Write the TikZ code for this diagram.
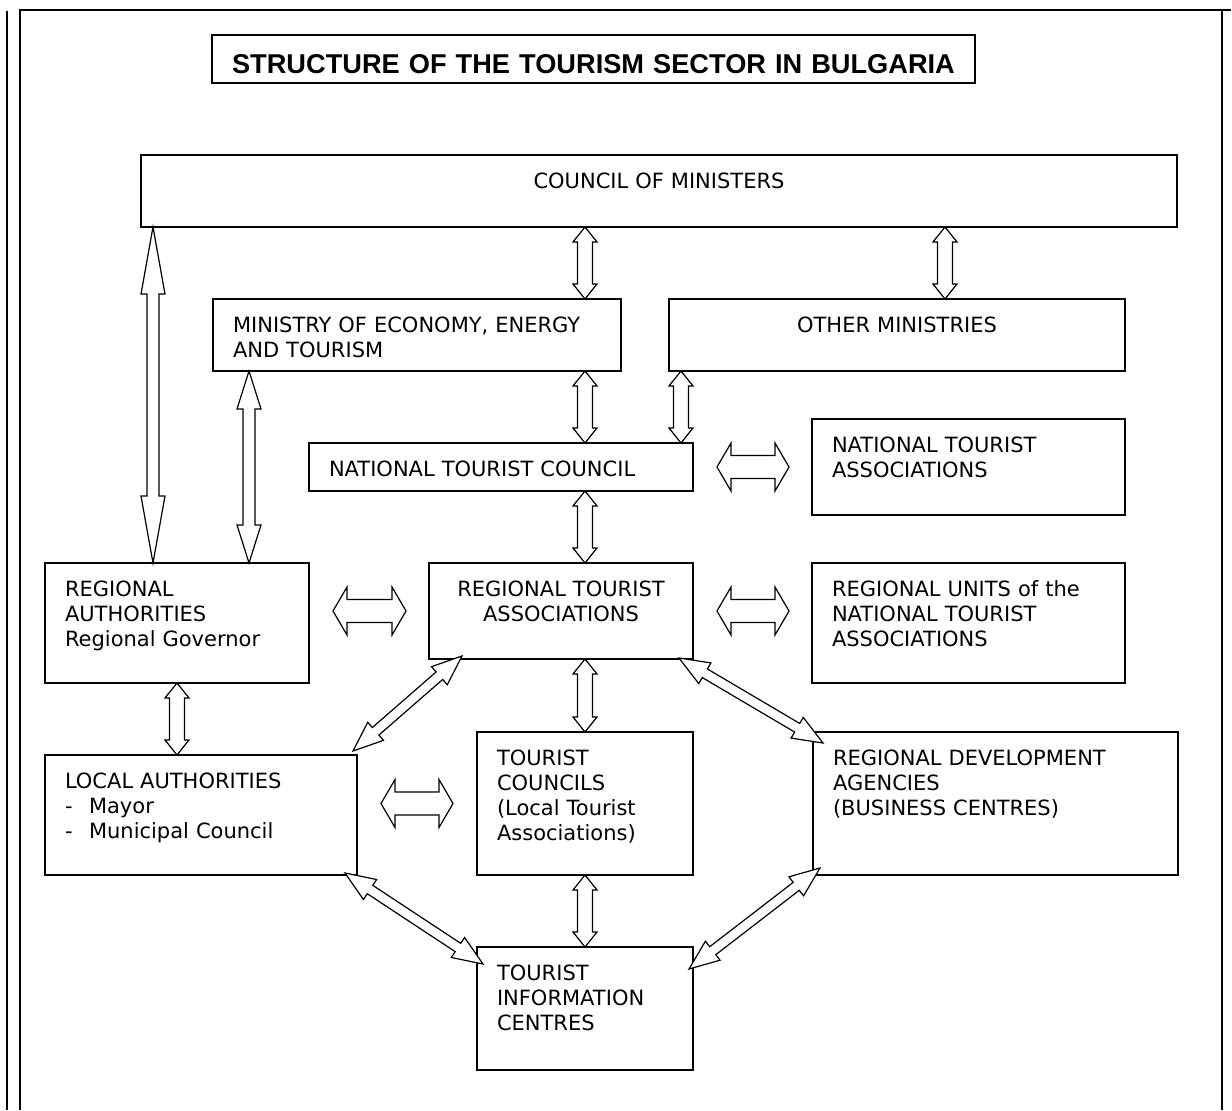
\documentclass[tikz,border=0pt]{standalone}
\usepackage{fontspec}
\setmainfont{DejaVu Sans}
\newfontfamily\titlefont{Liberation Sans}
\usetikzlibrary{calc}

\tikzstyle{block} = [draw, line width=0.6pt, anchor=north west, align=left,
    inner xsep=10pt, inner ysep=0pt, outer sep=0pt, text height=16.5pt]
\tikzstyle{blockarrow} = [draw, line width=0.6pt, fill=white, line join=miter]
\tikzstyle{pageframe} = [line width=1pt]
\tikzset{boxdim/.style 2 args={text width=(#1-40)*0.5pt, text depth=(#2-33)*0.5pt}}

% hollow double-headed arrow: from, to, shaft half width, head half width, head length
\newcommand{\dblarrow}[5]{%
  \draw[blockarrow] (#1) -- ($(#1)!#5!(#2)!#4!90:(#2)$) -- ($(#1)!#5!(#2)!#3!90:(#2)$)
    -- ($(#2)!#5!(#1)!#3!-90:(#1)$) -- ($(#2)!#5!(#1)!#4!-90:(#1)$) -- (#2)
    -- ($(#2)!#5!(#1)!#4!90:(#1)$) -- ($(#2)!#5!(#1)!#3!90:(#1)$)
    -- ($(#1)!#5!(#2)!#3!-90:(#2)$) -- ($(#1)!#5!(#2)!#4!-90:(#2)$) -- cycle;}
\newcommand{\shortarrow}[2]{\dblarrow{#1}{#2}{3.75pt}{6pt}{7.5pt}}
\newcommand{\widearrow}[2]{\dblarrow{#1}{#2}{5.75pt}{12pt}{7pt}}
\newcommand{\slantarrow}[2]{\dblarrow{#1}{#2}{2.5pt}{6pt}{15pt}}

\begin{document}
\begin{tikzpicture}[x=0.5pt, y=-0.5pt, font=\fontsize{10.5pt}{12.5pt}\selectfont]
  \useasboundingbox (0,0) rectangle (1232,1110);

  % page frame
  \draw[pageframe] (7,11) -- (7,1110);
  \draw[pageframe] (20,1110) -- (20,10) -- (1231,10);
  \draw[pageframe] (1222,10) -- (1222,1110);

  % Place nodes
  \node[block, align=center, boxdim={763}{48}, text height=19pt, text depth=5pt,
        font=\titlefont\bfseries\fontsize{13.6pt}{15pt}\selectfont] (title) at (212,35)
        {STRUCTURE OF THE TOURISM SECTOR IN BULGARIA};
  \node[block, align=center, boxdim={1036}{72}] (council) at (141,155) {COUNCIL OF MINISTERS};
  \node[block, boxdim={408}{72}] (ministry) at (213,299) {MINISTRY OF ECONOMY, ENERGY\\AND TOURISM};
  \node[block, align=center, boxdim={456}{72}] (other) at (669,299) {OTHER MINISTRIES};
  \node[block, boxdim={384}{48}] (ntc) at (309,443) {NATIONAL TOURIST COUNCIL};
  \node[block, boxdim={313}{96}] (nta) at (812,419) {NATIONAL TOURIST\\ASSOCIATIONS};
  \node[block, boxdim={264}{120}] (ra) at (45,563) {REGIONAL\\AUTHORITIES\\Regional Governor};
  \node[block, align=center, boxdim={264}{96}] (rta) at (429,563) {REGIONAL TOURIST\\ASSOCIATIONS};
  \node[block, boxdim={313}{120}] (units) at (812,563)
        {REGIONAL UNITS of the\\NATIONAL TOURIST\\ASSOCIATIONS};
  \node[block, boxdim={312}{120}] (la) at (45,755)
        {LOCAL AUTHORITIES\\\makebox[12pt][l]{-}Mayor\\\makebox[12pt][l]{-}Municipal Council};
  \node[block, boxdim={216}{143}] (tc) at (477,732)
        {TOURIST\\COUNCILS\\(Local Tourist\\Associations)};
  \node[block, boxdim={365}{143}] (rda) at (813,732)
        {REGIONAL DEVELOPMENT\\AGENCIES\\(BUSINESS CENTRES)};
  \node[block, boxdim={216}{123}] (tic) at (477,947) {TOURIST\\INFORMATION\\CENTRES};

  % arrow ends
  \coordinate (cm1) at (council.south -| tc.north);
  \coordinate (cm2) at (ministry.north -| tc.north);
  \coordinate (mn1) at (ministry.south -| tc.north);
  \coordinate (mn2) at (ntc.north -| tc.north);
  \coordinate (nr1) at (ntc.south -| tc.north);
  \coordinate (nr2) at (rta.north -| tc.north);
  \coordinate (rt1) at (rta.south -| tc.north);
  \coordinate (co2) at ([xshift=138pt]other.north west);
  \coordinate (co1) at (council.south -| co2);
  \coordinate (on1) at ([xshift=6pt]other.south west);
  \coordinate (on2) at (ntc.north -| on1);
  \coordinate (cr1) at ([xshift=6pt]council.south west);
  \coordinate (cr2) at (ra.north -| cr1);
  \coordinate (mr1) at ([xshift=18pt]ministry.south west);
  \coordinate (mr2) at (ra.north -| mr1);
  \coordinate (rl2) at (la.north -| ra.south);

  \coordinate (na1) at ([xshift=12pt]ntc.east);
  \coordinate (na2) at ([xshift=-11.5pt]nta.west);
  \coordinate (ru1) at ([xshift=12pt]rta.east);
  \coordinate (ru2) at ($(rta.east -| units.west)+(-23,0)$);
  \coordinate (rr1) at ($(rta.west -| ra.east)+(24,0)$);
  \coordinate (rr2) at ([xshift=-11.5pt]rta.west);
  \coordinate (lt1) at ($(tc.west -| la.east)+(24,0)$);
  \coordinate (lt2) at ([xshift=-12pt]tc.west);

  \coordinate (dl1) at ($(rta.south west)+(33,-3)$);
  \coordinate (dl2) at ($(la.north east)+(-4,-4)$);
  \coordinate (dr1) at ($(rta.south east)+(-14,-1)$);
  \coordinate (dr2) at ($(rda.north west)+(10,11)$);
  \coordinate (bl1) at ($(la.south east)+(-12,-2)$);
  \coordinate (bl2) at ($(tic.north west)+(6,17)$);
  \coordinate (br1) at ($(rda.south west)+(7,-7)$);
  \coordinate (br2) at ($(tic.north east)+(-4,22)$);

  % vertical links
  \shortarrow{cm1}{cm2}
  \shortarrow{co1}{co2}
  \shortarrow{mn1}{mn2}
  \shortarrow{on1}{on2}
  \shortarrow{nr1}{nr2}
  \shortarrow{rt1}{tc.north}
  \shortarrow{tc.south}{tic.north}
  \shortarrow{ra.south}{rl2}
  \dblarrow{cr1}{cr2}{3pt}{6pt}{33.5pt}
  \dblarrow{mr1}{mr2}{3pt}{6pt}{19pt}

  % horizontal links
  \widearrow{na1}{na2}
  \widearrow{ru1}{ru2}
  \widearrow{rr1}{rr2}
  \widearrow{lt1}{lt2}

  % slanted links
  \slantarrow{dl1}{dl2}
  \slantarrow{dr1}{dr2}
  \slantarrow{bl1}{bl2}
  \slantarrow{br1}{br2}
\end{tikzpicture}
\end{document}
